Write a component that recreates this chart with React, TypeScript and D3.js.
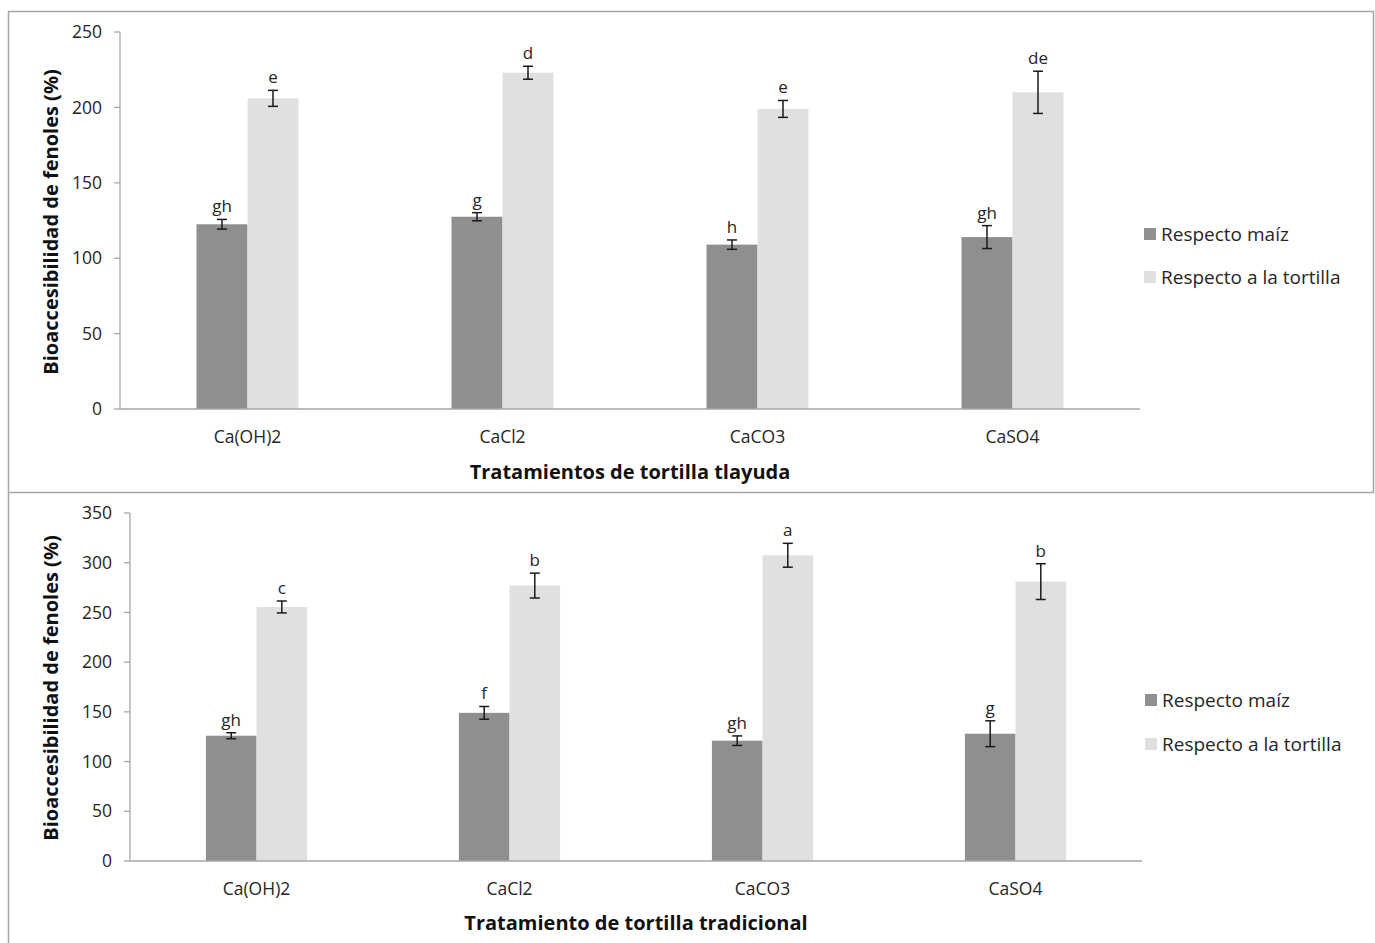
import { useEffect, useRef } from "react";
import { select, scaleBand, scaleLinear, range } from "d3";

////
// data
const categories = ["Ca(OH)2", "CaCl2", "CaCO3", "CaSO4"];
const seriesNames = ["Respecto maíz", "Respecto a la tortilla"];
//
// top: tortilla tlayuda
const tlayudaMaiz = [122.5, 127.5, 109, 114];
const tlayudaMaizErr = [3.2, 2.7, 3.1, 7.6];
const tlayudaTortilla = [206, 223, 199, 210];
const tlayudaTortillaErr = [5.3, 4.3, 5.6, 14];
const tlayudaLetters = [
  ["gh", "g", "h", "gh"],
  ["e", "d", "e", "de"],
];
//
// bottom: tortilla tradicional
const tradMaiz = [126, 149, 121, 128];
const tradMaizErr = [3, 6.4, 4.8, 13];
const tradTortilla = [255.5, 277, 307.5, 281];
const tradTortillaErr = [6, 12.5, 12, 18];
const tradLetters = [
  ["gh", "f", "gh", "g"],
  ["c", "b", "a", "b"],
];

const COLORS = ["#8f8f8f", "#e0e0e0"];
const FONT = "'Open Sans', 'Liberation Sans', sans-serif";
const TEXT = "#262626";
const AXIS = "#a6a6a6";

const PANELS = [
  {
    values: [tlayudaMaiz, tlayudaTortilla],
    errors: [tlayudaMaizErr, tlayudaTortillaErr],
    letters: tlayudaLetters,
    yMax: 250,
    xTitle: "Tratamientos de tortilla tlayuda",
    x0: 120,
    x1: 1140,
    yBottom: 409,
    yTop: 32,
    xTitleY: 479,
    yTitleY: 222,
    legendX: 1144,
    legendY: [234, 277],
  },
  {
    values: [tradMaiz, tradTortilla],
    errors: [tradMaizErr, tradTortillaErr],
    letters: tradLetters,
    yMax: 350,
    xTitle: "Tratamiento de tortilla tradicional",
    x0: 130,
    x1: 1142,
    yBottom: 861,
    yTop: 513,
    xTitleY: 930,
    yTitleY: 688,
    legendX: 1145,
    legendY: [700, 744],
  },
];

const drawPanel = (svg, p) => {
  const g = svg.append("g");
  const x = scaleBand()
    .domain(categories)
    .range([p.x0, p.x1])
    .paddingInner(0.6)
    .paddingOuter(0.3);
  const xs = scaleBand().domain(["0", "1"]).range([0, x.bandwidth()]);
  const y = scaleLinear().domain([0, p.yMax]).range([p.yBottom, p.yTop]);
  const ticks = range(0, p.yMax + 1, 50);
  //
  // y axis
  g.append("line")
    .attr("x1", p.x0)
    .attr("x2", p.x0)
    .attr("y1", y(0))
    .attr("y2", y(p.yMax))
    .attr("stroke", AXIS)
    .attr("stroke-width", 1.3);
  g.selectAll(".ytick")
    .data(ticks)
    .enter()
    .append("line")
    .attr("x1", p.x0 - 6)
    .attr("x2", p.x0)
    .attr("y1", (d) => y(d))
    .attr("y2", (d) => y(d))
    .attr("stroke", AXIS)
    .attr("stroke-width", 1.3);
  g.selectAll(".ylabel")
    .data(ticks)
    .enter()
    .append("text")
    .attr("x", p.x0 - 18)
    .attr("y", (d) => y(d))
    .attr("dy", "0.35em")
    .attr("text-anchor", "end")
    .attr("font-size", 17.5)
    .attr("font-family", FONT)
    .attr("fill", TEXT)
    .text((d) => d);
  //
  // bars
  p.values.forEach((vals, s) => {
    g.selectAll(`.bar${s}`)
      .data(vals)
      .enter()
      .append("rect")
      .attr("x", (d, i) => x(categories[i]) + xs(String(s)))
      .attr("y", (d) => y(d))
      .attr("width", xs.bandwidth())
      .attr("height", (d) => y(0) - y(d))
      .attr("fill", COLORS[s]);
  });
  //
  // x axis over bars
  g.append("line")
    .attr("x1", p.x0)
    .attr("x2", p.x1)
    .attr("y1", y(0))
    .attr("y2", y(0))
    .attr("stroke", AXIS)
    .attr("stroke-width", 1.3);
  //
  // error bars + letters
  p.values.forEach((vals, s) => {
    vals.forEach((v, i) => {
      const cx = x(categories[i]) + xs(String(s)) + xs.bandwidth() / 2;
      const e = p.errors[s][i];
      const eg = g.append("g").attr("stroke", "#1a1a1a").attr("stroke-width", 1.5);
      eg.append("line").attr("x1", cx).attr("x2", cx).attr("y1", y(v + e)).attr("y2", y(v - e));
      eg.append("line").attr("x1", cx - 5).attr("x2", cx + 5).attr("y1", y(v + e)).attr("y2", y(v + e));
      eg.append("line").attr("x1", cx - 5).attr("x2", cx + 5).attr("y1", y(v - e)).attr("y2", y(v - e));
      g.append("text")
        .attr("x", cx)
        .attr("y", y(v + e) - 7)
        .attr("text-anchor", "middle")
        .attr("font-size", 17)
        .attr("font-family", FONT)
        .attr("fill", TEXT)
        .text(p.letters[s][i]);
    });
  });
  //
  // category labels
  g.selectAll(".xlabel")
    .data(categories)
    .enter()
    .append("text")
    .attr("x", (d) => x(d) + x.bandwidth() / 2)
    .attr("y", y(0) + 34)
    .attr("text-anchor", "middle")
    .attr("font-size", 17.5)
    .attr("font-family", FONT)
    .attr("fill", TEXT)
    .text((d) => d);
  //
  // titles
  g.append("text")
    .attr("x", (p.x0 + p.x1) / 2)
    .attr("y", p.xTitleY)
    .attr("text-anchor", "middle")
    .attr("font-size", 20)
    .attr("font-weight", "bold")
    .attr("font-family", FONT)
    .attr("fill", "#111")
    .text(p.xTitle);
  g.append("text")
    .attr("transform", `translate(58, ${p.yTitleY}) rotate(-90)`)
    .attr("text-anchor", "middle")
    .attr("font-size", 20)
    .attr("font-weight", "bold")
    .attr("font-family", FONT)
    .attr("fill", "#111")
    .text("Bioaccesibilidad de fenoles (%)");
  //
  // legend
  seriesNames.forEach((name, s) => {
    g.append("rect")
      .attr("x", p.legendX)
      .attr("y", p.legendY[s] - 6)
      .attr("width", 12)
      .attr("height", 12)
      .attr("fill", COLORS[s]);
    g.append("text")
      .attr("x", p.legendX + 17)
      .attr("y", p.legendY[s])
      .attr("dy", "0.35em")
      .attr("font-size", 19)
      .attr("font-family", FONT)
      .attr("fill", TEXT)
      .text(name);
  });
};

export default function App() {
  const ref = useRef(null);
  useEffect(() => {
    const svg = select(ref.current);
    svg.selectAll("*").remove();
    // frames
    svg.append("rect")
      .attr("x", 8.5)
      .attr("y", 11.5)
      .attr("width", 1365)
      .attr("height", 481)
      .attr("fill", "#fff")
      .attr("stroke", "#a6a6a6")
      .attr("stroke-width", 1.5);
    svg.append("line")
      .attr("x1", 8.5)
      .attr("x2", 8.5)
      .attr("y1", 492)
      .attr("y2", 943)
      .attr("stroke", "#a6a6a6")
      .attr("stroke-width", 1.5);
    PANELS.forEach((p) => drawPanel(svg, p));
  }, []);
  return (
    <svg
      ref={ref}
      width={1375}
      height={943}
      style={{ position: "absolute", left: 0, top: 0, background: "#fff" }}
    />
  );
}
